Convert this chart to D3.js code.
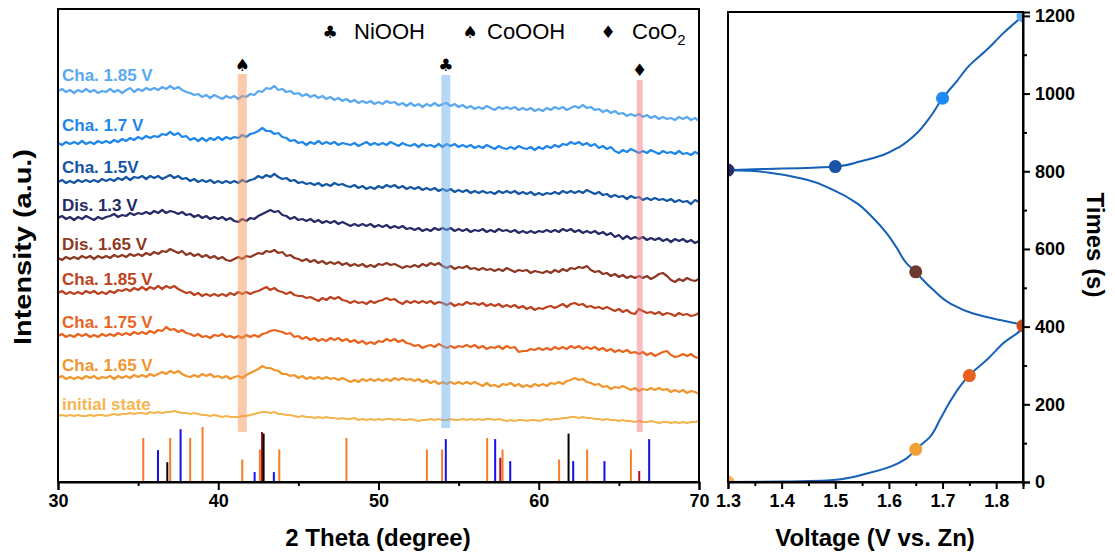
<!DOCTYPE html>
<html><head><meta charset="utf-8">
<script src="https://cdn.jsdelivr.net/npm/d3@7"></script>
<style>
html,body{margin:0;padding:0;background:#fff;}
svg{display:block;font-family:"Liberation Sans",Arial,sans-serif;}
</style></head><body>
<svg id="chart" width="1115" height="558"></svg>
<script>
// ---- XRD scans: 2θ from 30° to 70° in 0.25° steps, intensity in a.u. relative to each scan's stack level
const thetaStart = 30, thetaStep = 0.25;
const scanLabels = ["Cha. 1.85 V", "Cha. 1.7 V", "Cha. 1.5V", "Dis. 1.3 V", "Dis. 1.65 V", "Cha. 1.85 V", "Cha. 1.75 V", "Cha. 1.65 V", "initial state"];
const scanOffsets = [391, 339, 300, 264, 224, 189, 146, 104, 66];

const scanCha185b = [0,2,-1,1,-2, 1,-1,2,-1, 1,-2,0,-1, 2,-1,1,-2, 1,3,-1,2, 0,3,1,3, 1,4,2,5, 2,4,1,-1, -2,-4,-3,-6, -4,-7,-4,-6, -8,-5,-7,-5, -8,-5,-6,-3, -4,0,-1,3, 2,5,1,2, -1,0,-3,-2, -5,-3,-6,-4, -7,-5,-8,-6, -9,-7,-10,-8, -11,-9,-12,-10, -12,-10,-13,-11, -13,-10,-12,-11, -14,-12,-15,-12, -15,-13,-16,-13, -15,-12,-15,-13, -12,-15,-13,-16, -14,-17,-15,-18, -16,-18,-15,-17, -19,-16,-18,-16, -18,-16,-19,-17, -19,-17,-20,-18, -20,-17,-19,-16, -18,-16,-19,-17, -15,-17,-14,-17, -16,-19,-18,-21, -19,-22,-20,-23, -22,-25,-23,-25, -23,-26,-24,-27, -25,-28,-26,-28, -27,-29,-26,-28, -26,-29,-27,-30];
const scanCha17 = [0,-2,1,-1,1, -1,2,-1,1, -1,2,0,2, 0,3,1,4, 2,5,3,6, 4,7,5,7, 6,9,8,11, 8,10,6,7, 3,5,2,5, 2,5,3,6, 3,6,4,6, 5,8,6,9, 10,12,15,12, 12,9,10,6, 5,2,3,0, 1,-2,1,-1, 2,-1,1,-1, 1,-2,0,-1, -2,0,-3,-1, 1,-2,0,-2, 0,-2,1,-1, -3,0,-2,-3, -1,-4,-1,-3, -2,-4,-1,-4, -1,-3,-1,-4, -2,-4,-2,-5, -3,-5,-2,-4, -6,-3,-5,-6, -4,-6,-3,-5, -6,-4,-7,-4, -6,-3,-5,-2, -4,-1,-2,1, -1,1,-2,0, -3,-1,-5,-3, -6,-4,-8,-10, -7,-9,-6,-8, -10,-8,-10,-7, -9,-11,-8,-10, -9,-11,-8,-11, -10,-12,-9,-11];
const scanCha15 = [0,2,-1,1,-1, 2,0,2,0, 2,0,3,1, 3,1,4,2, 5,2,5,4, 6,3,6,4, 6,3,5,7, 4,6,3,4, 1,3,0,2, 0,2,-1,1, -1,1,-1,1, -1,2,0,2, 3,6,4,7, 5,8,5,3, 4,1,2,-1, 0,-2,-1,-3, -1,-4,-2,-4, -1,-3,-2,-4, -5,-3,-6,-4, -7,-5,-7,-4, -6,-3,-5,-3, -6,-4,-7,-5, -7,-5,-8,-6, -8,-6,-9,-7, -9,-7,-10,-8, -10,-8,-11,-9, -11,-9,-11,-10, -12,-9,-11,-9, -11,-9,-12,-10, -12,-10,-13,-11, -13,-11,-12,-10, -12,-9,-11,-9, -11,-9,-11,-8, -10,-12,-10,-13, -12,-15,-13,-15, -14,-17,-14,-16, -15,-18,-16,-18, -16,-18,-17,-19, -17,-20,-18,-20, -19,-22,-18,-20];
const scanDis13 = [0,2,-1,1,-2, 1,-1,2,0, -2,1,-1,1, 2,4,1,3, 2,5,3,5, 4,6,4,7, 5,8,5,7, 6,4,6,3, 4,1,3,0, 2,-1,1,-1, 1,-2,0,-3, -4,-1,-3,0, -1,2,4,6, 8,6,7,3, 2,-1,1,-2, -1,-3,-1,-4, -2,-5,-3,-5, -3,-6,-4,-6, -8,-6,-8,-6, -8,-6,-9,-7, -9,-7,-10,-8, -10,-8,-11,-10, -12,-10,-13,-11, -13,-10,-12,-10, -12,-10,-13,-11, -13,-11,-14,-12, -13,-11,-14,-12, -14,-11,-13,-12, -14,-12,-15,-13, -15,-13,-15,-13, -14,-12,-14,-12, -14,-11,-13,-11, -14,-12,-15,-13, -15,-13,-16,-14, -17,-15,-19,-17, -21,-18,-21,-19, -21,-19,-22,-20, -22,-20,-23,-21, -24,-21,-23,-21, -24,-22,-25,-23];
const scanDis165 = [0,-2,1,-1,1, -1,2,0,2, -1,2,0,2, 0,3,1,3, 1,4,2,4, 2,5,3,6, 4,7,6,9, 7,5,7,3, 5,2,4,1, 3,0,2,-1, 1,-2,-3,-1, 1,-1,2,1, 3,5,4,7, 6,8,5,6, 2,3,0,-1, -3,-1,-4,-2, -5,-3,-6,-4, -6,-4,-7,-5, -8,-6,-8,-6, -9,-7,-9,-6, -7,-5,-7,-6, -8,-10,-8,-9, -7,-9,-6,-8, -5,-7,-5,-8, -10,-8,-11,-9, -10,-8,-11,-10, -12,-10,-12,-11, -13,-11,-13,-10, -12,-14,-12,-13, -12,-15,-13,-14, -15,-13,-15,-12, -14,-11,-13,-10, -11,-9,-10,-8, -12,-14,-13,-16, -15,-18,-16,-19, -17,-20,-18,-20, -18,-20,-18,-21, -19,-16,-15,-18, -22,-24,-21,-23, -20,-22,-23,-21];
const scanCha185a = [0,2,-1,1,-1, 1,-1,2,0, 2,-1,1,-1, 2,0,3,2, 4,2,5,3, 6,3,6,4, 7,4,7,5, 7,4,2,0, 1,-2,0,-3, -1,-3,-1,-3, -1,-3,0,-2, 1,-1,1,-1, 1,2,4,6, 3,5,2,1, -1,1,-2,-3, -3,-5,-4,-6, -8,-5,-7,-4, -6,-4,-7,-8, -10,-8,-10,-9, -11,-8,-10,-8, -7,-5,-7,-6, -9,-11,-8,-10, -8,-10,-8,-10, -8,-11,-9,-10, -12,-10,-13,-11, -12,-9,-11,-10, -12,-10,-13,-11, -13,-11,-14,-12, -14,-12,-15,-13, -16,-14,-17,-15, -16,-14,-13,-15, -13,-11,-14,-11, -10,-12,-11,-14, -13,-15,-14,-16, -14,-16,-18,-16, -19,-17,-20,-21, -16,-18,-20,-19, -21,-19,-22,-20, -21,-23,-20,-22, -21,-23,-22,-20];
const scanCha175 = [0,2,-1,1,-1, 2,0,2,-1, 1,-1,2,0, 2,0,3,1, 3,1,4,2, 4,2,5,3, 6,5,9,6, 7,4,6,3, 2,0,2,-1, 0,-2,1,0, 2,-1,0,-2, 0,-2,1,-1, 1,-1,2,3, 5,6,5,4, 2,3,-1,0, -3,-1,-4,-2, -5,-3,-5,-2, -4,-2,-5,-3, -6,-4,-7,-5, -8,-6,-8,-5, -6,-3,-5,-3, -6,-4,-7,-8, -10,-9,-12,-10, -9,-11,-8,-10, -12,-10,-12,-10, -11,-9,-11,-9, -12,-10,-13,-11, -12,-10,-13,-10, -12,-11,-16,-15, -15,-13,-14,-12, -14,-12,-14,-11, -13,-11,-13,-10, -12,-10,-13,-11, -13,-11,-14,-12, -15,-13,-16,-14, -16,-14,-17,-16, -18,-16,-19,-17, -20,-18,-16,-15, -19,-21,-20,-18, -20,-18,-21,-22];
const scanCha165 = [0,2,-1,1,-1, 1,-1,2,0, 2,-1,1,0, 2,-1,2,0, 2,0,3,1, 3,1,4,2, 4,6,4,7, 5,7,4,2, 1,3,1,4, 2,4,1,2, 0,2,-1,1, 2,0,3,5, 7,9,12,10, 10,8,7,4, 4,2,3,0, 2,-1,1,-1, 1,-1,1,-1, 0,-2,0,-2, -4,-2,-4,-1, -3,-1,-3,-1, -3,-1,-3,0, -2,0,-2,-1, -3,-1,-4,-2, -5,-3,-6,-4, -6,-4,-6,-4, -6,-4,-6,-4, -6,-8,-5,-8, -7,-9,-6,-7, -5,-8,-6,-9, -7,-9,-6,-8, -6,-8,-5,-6, -4,-6,-3,-2, 0,-2,-1,-4, -5,-7,-6,-9, -8,-11,-9,-10, -8,-10,-12,-10, -13,-11,-12,-10, -12,-10,-12,-11, -14,-12,-14,-12, -15,-13,-14,-16];
const scanInitial = [0,1,0,1,0, 1,0,0,1, 0,1,1,0, 1,2,1,2, 2,3,2,3, 3,2,4,3, 4,3,4,4, 5,4,3,3, 2,3,2,1, 1,0,1,0, -1,0,-1,-1, -1,0,0,1, 2,3,4,4, 3,4,2,2, 1,1,0,-1, 0,-1,-1,-2, -1,-2,-1,-2, -2,-3,-2,-3, -3,-2,-4,-3, -4,-3,-4,-3, -4,-3,-3,-4, -3,-4,-4,-3, -4,-5,-4,-4, -3,-4,-3,-4, -4,-3,-4,-4, -3,-4,-3,-4, -3,-4,-3,-3, -4,-3,-4,-5, -4,-5,-4,-4, -5,-4,-4,-5, -4,-3,-4,-3, -3,-2,-2,-1, -1,-2,-1,-2, -2,-3,-3,-4, -3,-4,-4,-5, -4,-5,-5,-6, -5,-6,-6,-5, -6,-7,-6,-6, -7,-6,-7,-6, -7,-6,-6,-5];
const scans = [scanCha185b, scanCha17, scanCha15, scanDis13, scanDis165, scanCha185a, scanCha175, scanCha165, scanInitial];
const scanColors = ["#5aa9f0", "#1f86ec", "#1456a6", "#262a66", "#8e3823", "#bd4220", "#e9651f", "#f0962f", "#f5b54e"];

// ---- reference stick patterns (2θ, relative intensity %)
const refOrangePos = [35.32, 37.0, 38.25, 39.02, 41.5, 42.6, 43.81, 48.0, 53.02, 53.97, 56.78, 57.74, 61.27, 63.02, 65.75];
const refOrangeInt = [80, 80, 80, 100, 41, 59, 59, 80, 59, 59, 80, 59, 41, 59, 59];
const refBluePos = [36.24, 37.65, 42.27, 43.47, 54.2, 57.28, 58.22, 62.15, 64.1, 66.89];
const refBlueInt = [58, 96, 18, 18, 78, 78, 38, 38, 38, 78];
const refRedPos = [42.73, 57.6, 66.27];
const refRedInt = [91, 44, 20];
const refBlackPos = [36.82, 42.83, 61.86];
const refBlackInt = [36, 88, 88];

// ---- phase markers
const phaseNames = ["NiOOH", "CoOOH", "CoO"];
const phaseSymbols = ["\u2663", "\u2660", "\u2666"];
const phasePeaks = [54.2, 41.5, 66.3];
const bandColors = ["#6fb0f0", "#f5955a", "#f47a84"];

// ---- galvanostatic profile (time in s, voltage in V vs. Zn)
const profileTimes = [0, 1, 5, 22, 39, 61, 84, 117, 160, 207, 245, 275, 314, 357, 402, 417, 434, 460, 494, 524, 541, 563, 602, 640, 679, 718, 752, 778, 795, 801, 803, 806, 808, 812, 825, 842, 863, 898, 940, 988, 1031, 1074, 1112, 1155, 1200];
const profileVolts = [1.30, 1.40, 1.496, 1.559, 1.602, 1.633, 1.65, 1.677, 1.695, 1.714, 1.732, 1.75, 1.782, 1.813, 1.85, 1.807, 1.757, 1.714, 1.683, 1.661, 1.65, 1.633, 1.615, 1.596, 1.571, 1.540, 1.496, 1.447, 1.384, 1.341, 1.30, 1.372, 1.434, 1.50, 1.546, 1.589, 1.62, 1.652, 1.677, 1.70, 1.726, 1.751, 1.782, 1.813, 1.85];

// ---- states where the XRD scans were taken
const stepVoltages = [1.3, 1.65, 1.75, 1.85, 1.65, 1.3, 1.5, 1.7, 1.85];
const stepTimes = [0, 84, 274, 402, 541, 803, 812, 988, 1200];
const stepColors = ["#f5b54e", "#f0a035", "#e8601c", "#d24a1a", "#6b3a2c", "#2a2d6a", "#1a55a5", "#1e8af5", "#5aabf0"];

const voltTicks = [1.3, 1.4, 1.5, 1.6, 1.7, 1.8];
const voltMinor = [1.35, 1.45, 1.55, 1.65, 1.75, 1.85];
const timeTicks = [0, 200, 400, 600, 800, 1000, 1200];
const timeMinor = [100, 300, 500, 700, 900, 1100];
const thetaTicks = [30, 40, 50, 60, 70];
const thetaMinor = [35, 45, 55, 65];

const svg = d3.select("#chart");
const FONT = '"Liberation Sans", Arial, sans-serif';

// ================= left panel: XRD =================
const xT = d3.scaleLinear([30, 70], [58, 699]);
const yI = d3.scaleLinear([0, 473], [482, 9]);
const yStick = d3.scaleLinear([0, 100], [482, 427]);

const left = svg.append("g");

// scans with their labels
const labelLift = [10, 12, 9, 7, 8, 8, 8, 7, 6];
scans.forEach((s, k) => {
  const line = d3.line()
    .x((d, i) => xT(thetaStart + i * thetaStep))
    .y(d => yI(scanOffsets[k] + d));
  left.append("path").datum(s)
    .attr("d", line)
    .attr("fill", "none")
    .attr("stroke", scanColors[k])
    .attr("stroke-width", 2.2)
    .attr("stroke-linejoin", "round");
  left.append("text")
    .attr("x", 62)
    .attr("y", yI(scanOffsets[k]) - labelLift[k])
    .attr("fill", scanColors[k])
    .attr("font-size", 17)
    .attr("font-weight", "bold")
    .text(scanLabels[k]);
});

// highlighted peak bands with their symbols
const bandTop = [75, 74, 80], bandBottom = [428, 432, 432], bandWidth = [9, 9, 6];
phasePeaks.forEach((p, k) => {
  left.append("rect")
    .attr("x", xT(p) - bandWidth[k] / 2)
    .attr("y", bandTop[k])
    .attr("width", bandWidth[k])
    .attr("height", bandBottom[k] - bandTop[k])
    .attr("fill", bandColors[k])
    .attr("fill-opacity", 0.5);
  left.append("text")
    .attr("x", xT(p))
    .attr("y", k === 2 ? 76 : 71)
    .attr("text-anchor", "middle")
    .attr("font-family", "DejaVu Sans")
    .attr("font-size", 17)
    .attr("fill", "#000")
    .text(phaseSymbols[k]);
});

// reference sticks
function sticks(pos, ints, color) {
  left.selectAll(null).data(pos).enter().append("line")
    .attr("x1", d => xT(d)).attr("x2", d => xT(d))
    .attr("y1", yStick(0)).attr("y2", (d, i) => yStick(ints[i]))
    .attr("stroke", color).attr("stroke-width", 2);
}
sticks(refOrangePos, refOrangeInt, "#f47c2a");
sticks(refBluePos, refBlueInt, "#1010f0");
sticks(refRedPos, refRedInt, "#b0101e");
sticks(refBlackPos, refBlackInt, "#000");

// legend
const legendSymX = [330, 470, 608], legendTextX = [354, 487, 632];
phaseNames.forEach((n, k) => {
  left.append("text").attr("x", legendSymX[k]).attr("y", 38)
    .attr("text-anchor", "middle").attr("font-family", "DejaVu Sans").attr("font-size", 17)
    .text(phaseSymbols[k]);
  const t = left.append("text").attr("x", legendTextX[k]).attr("y", 39)
    .attr("font-size", 22).attr("fill", "#000").text(n);
  if (k === 2) t.append("tspan").attr("font-size", 15).attr("dy", 6).text("2");
});

// frame and axis
left.append("rect").attr("x", 58).attr("y", 9).attr("width", 641).attr("height", 473)
  .attr("fill", "none").attr("stroke", "#000").attr("stroke-width", 2);
left.append("g").attr("transform", "translate(0,482)")
  .call(d3.axisBottom(xT).tickValues(thetaTicks).tickSize(8).tickPadding(4).tickFormat(d3.format("d")));
left.append("g").attr("transform", "translate(0,482)")
  .call(d3.axisBottom(xT).tickValues(thetaMinor).tickSize(4).tickFormat(""))
  .select(".domain").remove();

left.append("text").attr("x", 378).attr("y", 546).attr("text-anchor", "middle")
  .attr("font-size", 24).attr("font-weight", "bold").text("2 Theta (degree)");
left.append("text").attr("transform", "translate(31,247) rotate(-90)").attr("text-anchor", "middle")
  .attr("font-size", 24).attr("font-weight", "bold")
  .attr("textLength", 196).attr("lengthAdjust", "spacingAndGlyphs")
  .text("Intensity (a.u.)");

// ================= right panel: time vs voltage =================
const xV = d3.scaleLinear([1.3, 1.85], [728, 1023]);
const yTm = d3.scaleLinear([0, 1210], [482, 12]);
const right = svg.append("g");

right.append("clipPath").attr("id", "plotClip")
  .append("rect").attr("x", 728).attr("y", 12).attr("width", 295).attr("height", 470);

const plot = right.append("g").attr("clip-path", "url(#plotClip)");
const profile = profileTimes.map((t, i) => ({ t, v: profileVolts[i] }));
plot.append("path").datum(profile)
  .attr("d", d3.line().x(d => xV(d.v)).y(d => yTm(d.t)).curve(d3.curveMonotoneY))
  .attr("fill", "none").attr("stroke", "#1560b8").attr("stroke-width", 2);
const steps = stepVoltages.map((v, i) => ({ v, t: stepTimes[i], c: stepColors[i] }));
plot.selectAll("circle").data(steps).enter().append("circle")
  .attr("cx", d => xV(d.v)).attr("cy", d => yTm(d.t)).attr("r", 6.5)
  .attr("fill", d => d.c);

right.append("rect").attr("x", 728).attr("y", 12).attr("width", 295).attr("height", 470)
  .attr("fill", "none").attr("stroke", "#000").attr("stroke-width", 2);
right.append("g").attr("transform", "translate(0,482)")
  .call(d3.axisBottom(xV).tickValues(voltTicks).tickSize(7).tickPadding(5).tickFormat(d3.format(".1f")));
right.append("g").attr("transform", "translate(0,482)")
  .call(d3.axisBottom(xV).tickValues(voltMinor).tickSize(4).tickFormat(""))
  .select(".domain").remove();
right.append("g").attr("transform", "translate(1023,0)")
  .call(d3.axisRight(yTm).tickValues(timeTicks).tickSize(7).tickPadding(5).tickFormat(d3.format("d")));
right.append("g").attr("transform", "translate(1023,0)")
  .call(d3.axisRight(yTm).tickValues(timeMinor).tickSize(4).tickFormat(""))
  .select(".domain").remove();

right.append("text").attr("x", 875).attr("y", 546).attr("text-anchor", "middle")
  .attr("font-size", 24).attr("font-weight", "bold").text("Voltage (V vs. Zn)");
right.append("text").attr("transform", "translate(1087,245) rotate(90)").attr("text-anchor", "middle")
  .attr("font-size", 24).attr("font-weight", "bold").text("Times (s)");

// shared axis styling
svg.selectAll(".domain").attr("stroke-width", 2);
svg.selectAll(".tick line").attr("stroke-width", 2);
svg.selectAll(".tick text").attr("font-size", 18).attr("font-weight", "bold")
  .attr("font-family", FONT).attr("fill", "#000");
</script>
</body></html>
